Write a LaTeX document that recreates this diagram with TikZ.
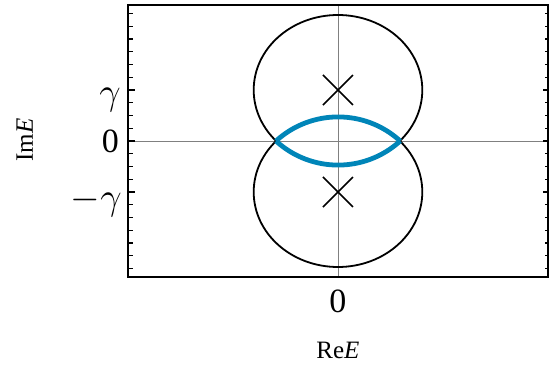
\RequirePackage{fix-cm}
\documentclass[tikz,border=0pt]{standalone}
\usepackage{fontspec}
\setmainfont{Liberation Serif}
\definecolor{lensblue}{RGB}{0,133,184}
\definecolor{axisgray}{RGB}{128,128,128}
\tikzset{
  frameline/.style={line width=2.2pt, line cap=rect},
  axisline/.style={axisgray, line width=0.9pt},
  ellipseline/.style={line width=1.8pt},
  lensline/.style={lensblue, line width=4.8pt},
  crossline/.style={line width=1.6pt},
  tickline/.style={line width=1.3pt},
  ticklabel/.style={inner sep=0pt, font=\fontsize{34}{40}\selectfont},
  gammalabel/.style={inner sep=0pt, font=\fontsize{38}{44}\selectfont},
  axislabel/.style={inner sep=0pt, font=\fontsize{25}{30}\selectfont}
}
\begin{document}
\begin{tikzpicture}[x=1pt,y=1pt]
\useasboundingbox (-338,-226) rectangle (214,141);
% named points
\coordinate (fSW) at (-210,-136);
\coordinate (fNE) at (210,136);
\coordinate (fW) at (-210,0);
\coordinate (fE) at (210,0);
\coordinate (fS) at (0,-136);
\coordinate (fN) at (0,136);
\coordinate (cU) at (0,51);
\coordinate (cL) at (0,-51);
\coordinate (pL) at (-62,0);
\coordinate (pR) at (62,0);
% axes
\draw[axisline] (fW) -- (fE);
\draw[axisline] (fS) -- (fN);
% ellipses
\draw[ellipseline] (cU) ellipse [x radius=84.3, y radius=75];
\draw[ellipseline] (cL) ellipse [x radius=84.3, y radius=75];
% lens
\draw[lensline] (pL) arc[start angle=132.4, end angle=47.6, radius=92.1];
\draw[lensline] (pL) arc[start angle=-132.4, end angle=-47.6, radius=92.1];
% crosses
\draw[crossline] ([shift={(-15,-15)}]cU) -- ([shift={(15,15)}]cU);
\draw[crossline] ([shift={(-15,15)}]cU) -- ([shift={(15,-15)}]cU);
\draw[crossline] ([shift={(-15,-15)}]cL) -- ([shift={(15,15)}]cL);
\draw[crossline] ([shift={(-15,15)}]cL) -- ([shift={(15,-15)}]cL);
% frame
\draw[frameline] (fSW) rectangle (fNE);
% ticks
\foreach \k in {-10,...,10}{
  \pgfmathsetmacro{\yy}{\k*12.75}
  \ifnum\k=0 \def\ll{7}\def\lr{5.5}\else
  \ifnum\k=4 \def\ll{7}\def\lr{5.5}\else
  \ifnum\k=-4 \def\ll{7}\def\lr{5.5}\else
  \def\ll{5}\def\lr{3.5}\fi\fi\fi
  \draw[tickline] (-210,\yy) -- ++(\ll,0);
  \draw[tickline] (210,\yy) -- ++(-\lr,0);
}
% tick labels
\node[gammalabel, anchor=base east] (lg) at (-217,37) {$\gamma$};
\node[ticklabel, anchor=base east] (l0) at (-219,-12) {0};
\node[gammalabel, anchor=base east] (lmg) at (-216,-68) {$-\gamma$};
\node[ticklabel, anchor=base] (b0) at (0,-171) {0};
% axis labels
\node[axislabel, anchor=base] (xl) at (0,-217) {Re\textit{E}};
\node[axislabel, anchor=base, rotate=90] (yl) at (-305,1) {Im\textit{E}};
\end{tikzpicture}
\end{document}
